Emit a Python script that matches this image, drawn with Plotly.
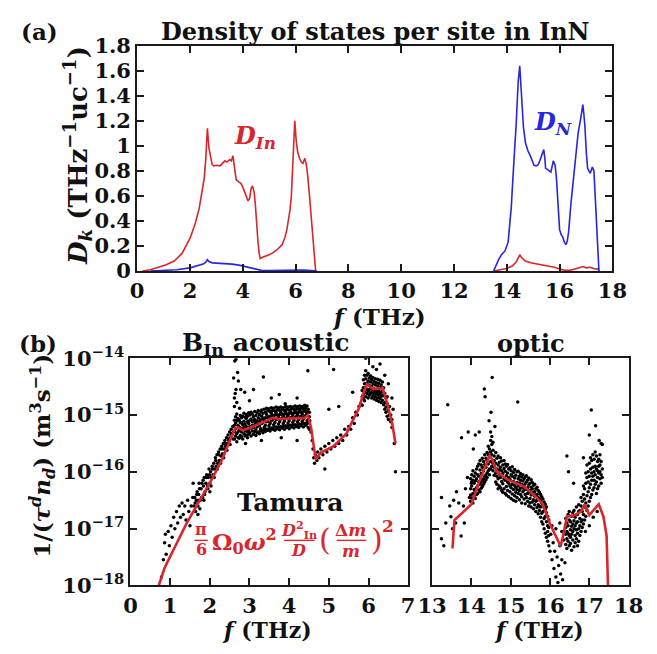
import plotly.graph_objects as go

# ---------------- data ----------------
# (a) density of states per site, D_In (red) and D_N (blue); None = gap between bands
dos_in_f = [0.2, 0.5, 0.8, 1.1, 1.4, 1.7, 2.0, 2.2, 2.35, 2.45, 2.54, 2.6, 2.66, 2.72, 2.78, 2.84, 2.9, 3.0,
            3.14, 3.22, 3.32, 3.4, 3.51, 3.57, 3.63, 3.69, 3.75, 3.85, 3.93, 4.0, 4.05, 4.12, 4.2, 4.26,
            4.32, 4.37, 4.43, 4.47, 4.52, 4.57, 4.62, 4.66, 4.75, 4.89, 5.0, 5.13, 5.3, 5.49, 5.6, 5.67,
            5.74, 5.79, 5.84, 5.88, 5.92, 5.97, 6.02, 6.08, 6.15, 6.22, 6.28, 6.35, 6.4, 6.45, 6.52, 6.61,
            6.7, 6.76, None,
            13.5, 13.8, 14.0, 14.2, 14.35, 14.45, 14.49, 14.55, 14.7, 14.9, 15.2, 15.5, 15.8, 16.0, 16.2,
            16.4, 16.6, 16.8, 16.9, 17.0, 17.15, 17.3, 17.45, 17.5]
dos_in = [0.0, 0.01, 0.03, 0.05, 0.08, 0.14, 0.26, 0.38, 0.5, 0.62, 0.74, 0.9, 1.14, 0.98, 0.9, 0.85, 0.84, 0.845,
          0.84, 0.86, 0.88, 0.87, 0.89, 0.88, 0.92, 0.82, 0.73, 0.71, 0.7, 0.67, 0.64, 0.6, 0.56, 0.58,
          0.66, 0.68, 0.63, 0.55, 0.38, 0.25, 0.14, 0.1, 0.11, 0.12, 0.13, 0.145, 0.17, 0.21, 0.27, 0.33,
          0.42, 0.49, 0.6, 0.77, 1.0, 1.2, 1.05, 0.95, 0.9, 0.87, 0.86, 0.9, 0.86, 0.78, 0.62, 0.41,
          0.15, 0.0, None,
          0.0, 0.01, 0.02, 0.04, 0.07, 0.11, 0.13, 0.11, 0.08, 0.065, 0.055, 0.045, 0.03, 0.015, 0.005,
          0.005, 0.015, 0.03, 0.035, 0.025, 0.03, 0.02, 0.015, 0.0]

dos_n_f = [0.5, 1.0, 1.5, 2.0, 2.3, 2.5, 2.6, 2.66, 2.72, 2.85, 3.0, 3.3, 3.6, 3.9, 4.1, 4.3, 4.5, 4.7, 5.0,
           5.5, 5.9, 6.0, 6.3, 6.6, 6.8, None,
           13.5, 13.6, 13.69, 13.8, 13.93, 14.05, 14.12, 14.17, 14.22, 14.26, 14.31, 14.35, 14.43, 14.49,
           14.55, 14.63, 14.71, 14.8, 14.89, 15.03, 15.12, 15.19, 15.25, 15.31, 15.4, 15.44, 15.47, 15.55,
           15.62, 15.67, 15.72, 15.76, 15.8, 15.83, 15.88, 15.91, 15.95, 16.0, 16.06, 16.12, 16.18, 16.24,
           16.29, 16.34, 16.43, 16.5, 16.55, 16.62, 16.7, 16.8, 16.88, 16.92, 16.96, 17.01, 17.06, 17.16,
           17.24, 17.3, 17.35, 17.39, 17.45, 17.49]
dos_n = [0.0, 0.003, 0.01, 0.025, 0.04, 0.055, 0.07, 0.09, 0.075, 0.065, 0.063, 0.06, 0.055, 0.045, 0.035,
         0.03, 0.015, 0.005, 0.003, 0.005, 0.008, 0.012, 0.008, 0.003, 0.0, None,
         0.0, 0.05, 0.09, 0.13, 0.16, 0.23, 0.38, 0.51, 0.7, 0.9, 1.02, 1.15, 1.51, 1.64,
         1.46, 1.15, 1.02, 0.96, 0.92, 0.845, 0.84, 0.85, 0.88, 0.91, 0.97, 0.9, 0.82, 0.81,
         0.8, 0.79, 0.84, 0.88, 0.86, 0.845, 0.74, 0.64, 0.48, 0.33, 0.29, 0.27, 0.23, 0.21,
         0.24, 0.31, 0.54, 0.7, 0.8, 0.95, 1.1, 1.22, 1.33, 1.25, 1.15, 0.95, 0.82, 0.78,
         0.83, 0.8, 0.6, 0.39, 0.15, 0.0]

dos_x_ticks = [0, 2, 4, 6, 8, 10, 12, 14, 16, 18]
dos_y_ticks = [0, 0.2, 0.4, 0.6, 0.8, 1.0, 1.2, 1.4, 1.6, 1.8]
dos_y_labels = ["0", "0.2", "0.4", "0.6", "0.8", "1", "1.2", "1.4", "1.6", "1.8"]

# (b) Tamura scattering rate, stored as log10 of 1/(tau^d n_d) in m^3 s^-1
tamura_acoustic_f = [0.715, 0.86, 1.10, 1.42, 1.74, 2.06, 2.31, 2.51, 2.63, 2.71, 2.83, 3.03, 3.35, 3.59,
                     3.75, 4.07, 4.39, 4.47, 4.55, 4.67, 4.80, 5.12, 5.44, 5.60, 5.76, 5.88, 5.96, 6.12,
                     6.36, 6.48, 6.60, 6.68]
tamura_acoustic_log = [-18.0, -17.69, -17.35, -16.90, -16.51, -16.12, -15.78, -15.44, -15.24, -15.22,
                       -15.27, -15.22, -15.13, -15.05, -15.07, -15.06, -15.05, -15.0, -15.22, -15.78,
                       -15.66, -15.55, -15.33, -15.10, -14.88, -14.60, -14.46, -14.54, -14.53, -14.82,
                       -15.16, -15.50]
tamura_optic_f = [13.52, 13.57, 13.76, 14.00, 14.17, 14.33, 14.46, 14.53, 14.65, 14.93, 15.34, 15.58,
                  15.82, 15.99, 16.15, 16.27, 16.35, 16.43, 16.63, 16.79, 16.88, 17.00, 17.24, 17.36,
                  17.44, 17.49]
tamura_optic_log = [-17.35, -16.85, -16.73, -16.57, -16.23, -15.95, -15.72, -15.78, -16.0, -16.14,
                    -16.26, -16.40, -16.57, -16.90, -17.13, -17.31, -17.07, -16.79, -16.76, -16.70,
                    -16.57, -16.76, -16.57, -16.79, -17.13, -18.4]

# computed per-mode rates read from the dot clouds: (f, log10 values...)
acoustic_cloud = [
    (0.78, -17.85), (0.83, -17.55), (0.86, -17.25), (0.88, -17.1), (0.9, -17.45), (0.95, -17.05),
    (0.98, -17.3), (1.02, -16.95), (1.05, -17.15), (1.09, -16.8), (1.12, -17.0), (1.16, -16.7),
    (1.19, -16.9), (1.23, -16.6), (1.26, -16.8), (1.3, -16.55), (1.33, -16.75), (1.37, -16.6),
    (1.4, -16.85), (1.44, -16.5), (1.47, -16.7), (1.5, -16.95), (1.53, -16.6), (1.57, -16.45),
    (1.58, -16.2),
    (1.60, -16.6), (1.62, -16.45), (1.63, -16.55), (1.64, -16.7), (1.66, -16.5), (1.67, -16.4),
    (1.68, -16.35), (1.70, -16.6, -16.75), (1.71, -16.5), (1.72, -16.4), (1.73, -16.2), (1.74, -16.3),
    (1.75, -16.65), (1.76, -16.5), (1.78, -16.3), (1.79, -16.45), (1.80, -16.2), (1.82, -16.45),
    (1.83, -16.15), (1.84, -16.25), (1.85, -16.5), (1.86, -16.1), (1.87, -16.4), (1.88, -16.35),
    (1.90, -16.2), (1.91, -16.1), (1.92, -16.05), (1.94, -16.25), (1.95, -16.3), (1.96, -16.1),
    (1.98, -15.95), (1.99, -16.05), (2.00, -16.2, -16.35), (2.02, -16.0), (2.03, -16.25),
    (2.04, -16.1), (2.06, -15.9), (2.07, -15.95), (2.08, -16.05), (2.10, -15.85), (2.11, -16.1),
    (2.12, -15.95), (2.14, -15.75), (2.15, -15.8), (2.16, -15.9), (2.18, -15.7), (2.19, -15.95),
    (2.20, -15.85), (2.22, -15.65), (2.23, -15.7), (2.24, -15.8), (2.26, -15.6), (2.27, -15.85),
    (2.28, -15.72), (2.30, -15.55), (2.31, -15.6), (2.32, -15.68), (2.34, -15.5), (2.35, -15.75),
    (2.36, -15.6), (2.38, -15.45), (2.39, -15.5), (2.40, -15.55), (2.42, -15.4), (2.43, -15.62),
    (2.44, -15.5), (2.46, -15.35), (2.47, -15.42), (2.48, -15.45), (2.50, -15.3), (2.51, -15.52),
    (2.52, -15.4), (2.54, -15.25), (2.55, -15.33), (2.56, -15.35), (2.58, -15.2), (2.59, -15.42),
    (2.60, -15.3),
    (2.62, -15.42, -15.29, -15.18, -15.09), (2.65, -15.37, -15.24, -15.14, -15.03),
    (2.68, -15.33, -15.47, -15.10, -14.98), (2.71, -15.30, -15.18, -15.40, -15.06),
    (2.74, -15.21, -15.41, -15.09, -15.27), (2.77, -15.36, -15.13, -15.23, -15.01),
    (2.80, -15.14, -15.30, -15.05, -15.38), (2.83, -15.25, -15.42, -15.17, -15.02),
    (2.86, -15.11, -15.33, -15.21, -14.97), (2.89, -15.37, -15.16, -15.28, -15.04),
    (2.92, -15.20, -15.06, -15.35, -14.99), (2.95, -15.29, -15.40, -15.12, -15.02),
    (2.98, -15.15, -15.26, -15.34, -14.96), (3.01, -15.31, -15.09, -15.20, -15.00),
    (3.04, -15.23, -15.37, -15.07, -14.95), (3.07, -15.12, -15.28, -15.18, -14.98),
    (3.10, -15.34, -15.03, -15.22, -15.10), (3.13, -15.17, -15.29, -15.08, -14.94),
    (3.16, -15.26, -15.13, -15.36, -15.01), (3.19, -15.10, -15.21, -15.31, -14.96),
    (3.22, -15.30, -15.05, -15.16, -14.92), (3.25, -15.19, -15.33, -15.11, -14.99),
    (3.28, -15.08, -15.24, -15.28, -14.94), (3.31, -15.27, -15.15, -15.02, -14.91),
    (3.34, -15.13, -15.31, -15.06, -14.97), (3.37, -15.22, -15.09, -15.26, -14.90),
    (3.40, -15.05, -15.18, -15.29, -14.95), (3.43, -15.25, -15.12, -14.99, -14.88),
    (3.46, -15.11, -15.27, -15.03, -14.93), (3.49, -15.19, -15.06, -15.24, -14.89),
    (3.52, -15.02, -15.15, -15.28, -14.94), (3.55, -15.23, -15.10, -14.97, -14.87),
    (3.58, -15.08, -15.25, -15.01, -14.92), (3.61, -15.17, -15.04, -15.22, -14.88),
    (3.64, -15.00, -15.13, -15.27, -14.93), (3.67, -15.21, -15.08, -14.96, -14.86),
    (3.70, -15.07, -15.24, -15.00, -14.91), (3.73, -15.16, -15.03, -15.21, -14.87),
    (3.76, -14.99, -15.12, -15.26, -14.92), (3.79, -15.20, -15.07, -14.95, -14.86),
    (3.82, -15.06, -15.23, -14.99, -14.90), (3.85, -15.15, -15.02, -15.20, -14.87),
    (3.88, -14.98, -15.11, -15.25, -14.92), (3.91, -15.19, -15.06, -14.94, -14.85),
    (3.94, -15.05, -15.22, -14.98, -14.90), (3.97, -15.14, -15.01, -15.19, -14.86),
    (4.00, -14.97, -15.10, -15.24, -14.91), (4.03, -15.18, -15.05, -14.93, -14.85),
    (4.06, -15.04, -15.21, -14.97, -14.89), (4.09, -15.13, -15.00, -15.18, -14.86),
    (4.12, -14.96, -15.09, -15.23, -14.90), (4.15, -15.17, -15.04, -14.92, -14.84),
    (4.18, -15.03, -15.20, -14.96, -14.89), (4.21, -15.12, -14.99, -15.17, -14.85),
    (4.24, -14.95, -15.08, -15.22, -14.90), (4.27, -15.16, -15.03, -14.91, -14.84),
    (4.30, -15.02, -15.19, -14.95, -14.88), (4.33, -15.11, -14.98, -15.16, -14.85),
    (4.36, -14.94, -15.07, -15.21, -14.89), (4.39, -15.15, -15.02, -14.90, -14.83),
    (4.42, -15.01, -15.18, -14.94, -14.87), (4.45, -15.10, -14.97, -15.15, -14.84),
    (4.48, -14.96, -15.08, -15.22, -14.90), (4.51, -15.14, -15.03, -15.25, -14.95),
    (2.60, -14.35), (2.62, -14.70, -14.85), (2.63, -14.05), (2.64, -14.62), (2.66, -14.02, -14.55),
    (2.68, -14.78), (2.70, -14.25), (2.72, -14.4), (2.75, -14.88), (2.78, -14.55), (2.88, -14.6),
    (3.00, -14.75), (3.10, -14.55), (3.35, -14.33), (3.55, -14.7), (3.75, -14.64), (3.90, -14.8),
    (4.20, -14.7), (4.47, -14.22), (2.90, -15.5), (3.30, -15.45), (3.80, -15.4), (4.20, -15.45),
    (5.12, -14.2),
    (4.52, -15.1), (4.55, -15.3), (4.58, -15.45), (4.60, -15.6), (4.62, -15.75), (4.64, -15.85),
    (4.66, -15.7), (4.70, -15.8), (4.72, -15.65), (4.75, -15.75), (4.80, -15.6), (4.85, -15.7),
    (4.90, -15.55, -15.95), (4.95, -15.65), (5.00, -15.5, -14.9), (5.05, -15.6), (5.10, -15.45),
    (5.15, -15.55), (5.20, -15.4), (5.25, -15.5, -14.85), (5.30, -15.35), (5.35, -15.45),
    (5.40, -15.25), (5.45, -15.35), (5.50, -15.2), (5.55, -15.25), (5.60, -15.05, -14.6),
    (5.64, -15.15), (5.68, -14.95), (5.72, -15.0), (5.76, -14.85), (5.80, -14.8),
    (5.84, -14.83, -14.68, -14.57), (5.87, -14.72, -14.52, -14.64, -14.38),
    (5.90, -14.60, -14.45, -14.75, -14.30), (5.93, -14.52, -14.68, -14.36, -14.22, -14.0),
    (5.96, -14.44, -14.62, -14.30, -14.55), (5.99, -14.58, -14.40, -14.70, -14.27, -13.95),
    (6.02, -14.48, -14.65, -14.35, -14.55), (6.05, -14.62, -14.42, -14.53, -14.31),
    (6.08, -14.50, -14.70, -14.38, -14.60), (6.11, -14.66, -14.45, -14.56, -14.34, -14.15),
    (6.14, -14.54, -14.72, -14.41, -14.62), (6.17, -14.68, -14.47, -14.58, -14.36),
    (6.20, -14.56, -14.74, -14.43, -14.63, -14.2), (6.23, -14.70, -14.49, -14.60, -14.37),
    (6.26, -14.58, -14.76, -14.44, -14.65), (6.29, -14.71, -14.51, -14.62, -14.39, -14.1),
    (6.32, -14.60, -14.78, -14.47, -14.67), (6.35, -14.74, -14.55, -14.65, -14.42),
    (6.38, -14.66, -14.82, -14.52), (6.41, -14.78, -14.62, -14.90, -14.3),
    (6.44, -14.86, -14.70, -14.95), (6.47, -14.80, -15.02, -14.68), (6.50, -14.92, -15.08, -14.45),
    (6.53, -15.00, -14.85), (6.56, -15.12, -15.00), (6.59, -15.22, -15.08, -14.7),
    (6.62, -14.9), (6.65, -15.5), (6.68, -16.0),
]

optic_cloud = [
    (13.24, -16.45, -17.18), (13.30, -17.3), (13.35, -16.9), (13.40, -14.82), (13.45, -16.6),
    (13.48, -16.79), (13.52, -17.0), (13.55, -16.5), (13.60, -16.9), (13.62, -16.35), (13.68, -16.55),
    (13.74, -17.13), (13.75, -15.4), (13.80, -16.6), (13.82, -16.9), (13.85, -16.3), (13.90, -16.1),
    (13.92, -15.3), (13.95, -16.45), (14.00, -16.2), (14.05, -15.6), (14.10, -15.35),
    (13.98, -16.52, -16.30, -16.12, -16.41), (14.01, -16.25, -16.46, -16.05, -16.18),
    (14.04, -16.38, -16.15, -16.55, -15.98), (14.07, -16.20, -16.42, -16.08, -16.31),
    (14.10, -16.34, -16.02, -16.47, -16.16), (14.13, -16.12, -16.28, -15.95, -16.40),
    (14.16, -16.25, -16.05, -16.38, -15.90), (14.19, -16.08, -16.32, -16.17, -15.86),
    (14.22, -16.22, -15.97, -16.35, -15.80), (14.25, -16.03, -16.18, -15.88, -16.29),
    (14.28, -16.15, -15.92, -16.26, -15.76), (14.31, -15.98, -16.12, -15.82, -16.22),
    (14.34, -16.08, -15.87, -16.18, -15.70), (14.37, -15.92, -16.05, -15.76, -16.14),
    (14.40, -16.02, -15.80, -15.66, -16.10), (14.43, -15.86, -15.98, -15.70, -15.55),
    (14.46, -15.95, -15.74, -15.60, -16.05), (14.49, -15.82, -15.65, -15.45, -15.30, -15.95),
    (14.52, -15.90, -15.70, -15.52, -15.38), (14.55, -15.85, -15.98, -15.62, -15.48),
    (14.58, -15.92, -16.06, -15.72, -15.80),
    (14.33, -14.54), (14.35, -14.68), (14.53, -14.34), (14.50, -14.95), (14.45, -15.1), (14.20, -15.3),
    (14.60, -15.2), (15.18, -14.77),
    (14.62, -16.18, -16.02, -15.85, -15.66), (14.65, -15.95, -16.22, -15.76, -16.08),
    (14.68, -16.12, -15.88, -16.30, -15.72), (14.71, -16.04, -16.25, -15.83, -15.97),
    (14.74, -16.28, -15.92, -16.10, -15.75), (14.77, -15.98, -16.17, -15.81, -16.33),
    (14.80, -16.21, -16.03, -15.88, -16.36), (14.83, -15.94, -16.30, -16.12, -15.80),
    (14.86, -16.15, -15.99, -16.38, -15.86), (14.89, -16.26, -16.07, -15.90, -16.41),
    (14.92, -16.02, -16.33, -16.18, -15.87), (14.95, -16.20, -15.95, -16.44, -16.10),
    (14.98, -16.35, -16.13, -15.93, -16.25), (15.01, -16.05, -16.28, -15.98, -16.47),
    (15.04, -16.22, -16.39, -16.08, -15.91), (15.07, -16.31, -16.01, -16.17, -16.50),
    (15.10, -16.11, -16.42, -16.24, -15.96), (15.13, -16.27, -16.06, -16.36, -16.52),
    (15.16, -16.19, -16.45, -16.00, -16.31), (15.19, -16.38, -16.12, -16.25, -15.99),
    (15.22, -16.08, -16.33, -16.49, -16.20), (15.25, -16.29, -16.15, -16.40, -16.03),
    (15.28, -16.44, -16.22, -16.09, -16.55), (15.31, -16.16, -16.35, -16.27, -16.05),
    (15.34, -16.32, -16.48, -16.12, -16.24), (15.37, -16.21, -16.40, -16.56, -16.09),
    (15.40, -16.45, -16.18, -16.31, -16.07), (15.43, -16.28, -16.52, -16.15, -16.38),
    (15.46, -16.36, -16.23, -16.60, -16.11), (15.49, -16.20, -16.47, -16.33, -16.55),
    (15.52, -16.41, -16.27, -16.14, -16.62), (15.55, -16.30, -16.53, -16.38, -16.19),
    (15.58, -16.49, -16.24, -16.65, -16.36), (15.61, -16.35, -16.58, -16.43, -16.22),
    (15.64, -16.52, -16.30, -16.70, -16.41), (15.67, -16.40, -16.63, -16.27, -16.50),
    (15.70, -16.58, -16.45, -16.74, -16.33), (15.73, -16.47, -16.68, -16.36, -16.60),
    (15.76, -16.62, -16.51, -16.80, -16.40), (15.79, -16.55, -16.73, -16.44, -16.88),
    (15.82, -16.70, -16.58, -16.92, -16.48), (15.85, -16.63, -16.82, -16.53, -17.00),
    (15.88, -16.78, -16.66, -17.08, -16.57), (15.91, -16.88, -16.72, -17.15, -16.62),
    (15.94, -16.95, -17.22, -16.78, -17.05), (15.97, -17.30, -16.85, -17.12, -16.98),
    (16.00, -17.4), (16.02, -17.1), (16.05, -17.55, -16.95), (16.08, -17.25), (16.10, -17.7),
    (16.12, -17.4), (16.15, -17.85, -17.0), (16.18, -17.5), (16.20, -17.95), (16.22, -17.65),
    (16.25, -17.3, -16.9), (16.27, -17.8), (16.30, -17.55, -17.05), (16.32, -17.9), (16.35, -17.2),
    (16.38, -17.6),
    (16.40, -17.28, -16.98, -17.10, -16.82), (16.43, -17.05, -17.35, -16.90, -17.18),
    (16.46, -16.95, -17.22, -16.75, -17.08), (16.49, -17.30, -16.85, -17.12, -16.70),
    (16.52, -17.02, -17.26, -16.88, -17.15), (16.55, -16.78, -17.10, -16.96, -17.38),
    (16.58, -17.20, -16.92, -16.72, -17.05), (16.61, -16.86, -17.32, -17.00, -16.68),
    (16.64, -17.12, -16.80, -17.25, -16.95), (16.67, -16.90, -17.18, -16.62, -17.02),
    (16.70, -17.08, -16.75, -16.88, -17.30), (16.73, -16.70, -17.00, -17.22, -16.58),
    (16.76, -16.95, -16.68, -17.12, -16.82), (16.79, -16.60, -16.88, -17.05, -16.45),
    (16.82, -16.85, -16.52, -16.98, -16.70), (16.85, -16.40, -16.75, -16.92, -16.25),
    (16.88, -16.62, -16.30, -16.85, -16.48), (16.91, -16.20, -16.55, -16.78, -16.02),
    (16.94, -16.42, -16.10, -16.68, -15.88), (16.97, -16.00, -16.35, -16.60, -16.18),
    (17.00, -16.28, -15.85, -16.52, -16.08), (17.03, -15.95, -16.22, -16.45, -15.75),
    (17.06, -16.15, -15.80, -16.40, -16.02), (17.09, -15.70, -16.08, -16.32, -15.92),
    (17.12, -16.00, -15.78, -16.28, -16.15), (17.15, -15.65, -15.90, -16.22, -16.05),
    (17.18, -15.95, -15.72, -16.18, -16.38), (17.21, -15.82, -16.10, -15.98, -16.30),
    (17.24, -16.02, -15.78, -16.25, -15.90), (17.27, -15.88, -16.12, -16.00, -15.70),
    (17.30, -16.05, -15.82, -16.20), (17.33, -15.95, -16.10),
    (16.90, -17.05), (17.00, -16.95), (17.10, -16.8), (17.20, -16.7),
    (16.43, -15.72), (16.47, -16.0), (16.60, -16.2), (16.85, -15.75), (17.00, -15.35),
    (17.05, -14.91), (17.16, -15.19), (17.25, -15.45), (17.30, -15.5), (17.33, -15.52),
]

rate_tickvals = [1e-18, 1e-17, 1e-16, 1e-15, 1e-14]
rate_ticktext = ["10<sup>\u221218</sup>", "10<sup>\u221217</sup>", "10<sup>\u221216</sup>",
                 "10<sup>\u221215</sup>", "10<sup>\u221214</sup>"]
acoustic_x_ticks = [0, 1, 2, 3, 4, 5, 6, 7]
optic_x_ticks = [13, 14, 15, 16, 17, 18]

# ---------------- figure ----------------
W, H = 657, 654
FONT = "DejaVu Serif"
RED = "#d8262b"
BLUE = "#2626dc"
TICK_SIZE = 21


def px(x):
    return x / W


def py(y):
    return 1 - y / H


def flatten(rows):
    xs, ys = [], []
    for row in rows:
        for v in row[1:]:
            xs.append(row[0])
            ys.append(10 ** v)
    return xs, ys


fig = go.Figure()

fig.add_trace(go.Scatter(x=dos_in_f, y=dos_in, mode="lines", line=dict(color=RED, width=1.6),
                         xaxis="x", yaxis="y", connectgaps=False, showlegend=False))
fig.add_trace(go.Scatter(x=dos_n_f, y=dos_n, mode="lines", line=dict(color=BLUE, width=1.6),
                         xaxis="x", yaxis="y", connectgaps=False, showlegend=False))

ax, ay = flatten(acoustic_cloud)
fig.add_trace(go.Scatter(x=ax, y=ay, mode="markers", marker=dict(color="black", size=3.5),
                         xaxis="x2", yaxis="y2", showlegend=False))
fig.add_trace(go.Scatter(x=tamura_acoustic_f, y=[10 ** v for v in tamura_acoustic_log], mode="lines",
                         line=dict(color=RED, width=2.6), xaxis="x2", yaxis="y2", showlegend=False))

ox, oy = flatten(optic_cloud)
fig.add_trace(go.Scatter(x=ox, y=oy, mode="markers", marker=dict(color="black", size=3.5),
                         xaxis="x3", yaxis="y3", showlegend=False))
fig.add_trace(go.Scatter(x=tamura_optic_f, y=[10 ** v for v in tamura_optic_log], mode="lines",
                         line=dict(color=RED, width=2.6), xaxis="x3", yaxis="y3", showlegend=False))

tickfont = dict(family=FONT, size=TICK_SIZE, color="#111", weight="bold")
common = dict(showline=True, linecolor="#1a1a1a", linewidth=2, mirror="allticks", ticks="inside",
              ticklen=7, tickwidth=1.5, tickcolor="#1a1a1a", showgrid=False, zeroline=False,
              tickfont=tickfont)

fig.update_layout(
    width=W, height=H, margin=dict(l=0, r=0, t=0, b=0),
    paper_bgcolor="white", plot_bgcolor="white",
    xaxis=dict(domain=[px(128), px(626)], anchor="y", range=[0, 18], tickvals=dos_x_ticks, **common),
    yaxis=dict(domain=[py(267), py(32)], anchor="x", range=[0, 1.8], tickvals=dos_y_ticks,
               ticktext=dos_y_labels, **common),
    xaxis2=dict(domain=[px(121), px(412)], anchor="y2", range=[0, 7], tickvals=acoustic_x_ticks, **common),
    yaxis2=dict(domain=[py(595), py(358)], anchor="x2", type="log", range=[-18, -14],
                tickvals=rate_tickvals, ticktext=rate_ticktext, **common),
    xaxis3=dict(domain=[px(437), px(643)], anchor="y3", range=[13, 18], tickvals=optic_x_ticks, **common),
    yaxis3=dict(domain=[py(595), py(358)], anchor="x3", type="log", range=[-18, -14],
                tickvals=rate_tickvals, showticklabels=False, **common),
)


def note(text, x, y, size=21, color="#111", angle=0, xref="paper", yref="paper", weight="bold"):
    if xref == "paper":
        x = px(x)
    if yref == "paper":
        y = py(y)
    fig.add_annotation(text=text, x=x, y=y, xref=xref, yref=yref, showarrow=False, textangle=angle,
                       font=dict(family=FONT, size=size, color=color, weight=weight),
                       xanchor="center", yanchor="middle")


# panel labels and titles
note("(a)", 26, 17, size=23)
note("Density of states per site in InN", 378, 17, size=24)
note("(b)", 24, 343, size=23)
note("B<sub>In</sub> acoustic", 262, 343, size=25)
note("optic", 541, 343, size=24)

# axis titles
note("<i>f</i> (THz)", 381, 314, size=23)
note("<i>f</i> (THz)", 264, 642, size=22)
note("<i>f</i> (THz)", 549, 642, size=22)
note("<i>D<sub>k</sub></i> (THz<sup>\u22121</sup>uc<sup>\u22121</sup>)", 66, 146, size=26, angle=-90)
note("1/(<i>\u03c4<sup>d</sup>n<sub>d</sub></i>) (m<sup>3</sup>s<sup>\u22121</sup>)", 28, 460, size=23,
     angle=-90)

# curve labels
note("<i>D<sub>In</sub></i>", 4.45, 1.07, size=24, color=RED, xref="x", yref="y")
note("<i>D<sub>N</sub></i>", 15.75, 1.18, size=24, color=BLUE, xref="x", yref="y")

# Tamura formula
note("Tamura", 288, 508, size=25)
note("\u03c0", 195, 537, size=16, color=RED)
note("6", 195, 558, size=16, color=RED)
note("\u03a9<sub>0</sub><i>\u03c9</i><sup>2</sup>", 241, 549, size=23, color=RED)
note("<i>D</i><sup>2</sup><sub>In</sub>", 298, 537, size=16, color=RED)
note("<i>D</i>", 297, 559, size=16, color=RED)
note("(", 325, 547, size=30, color=RED, weight="normal")
note("\u0394<i>m</i>", 352, 537, size=17, color=RED)
note("<i>m</i>", 352, 559, size=17, color=RED)
note(")", 379, 547, size=30, color=RED, weight="normal")
note("2", 391, 533, size=17, color=RED)

for x0, x1 in [(188, 202), (282, 314), (337, 368)]:
    fig.add_shape(type="line", xref="paper", yref="paper", x0=px(x0), x1=px(x1), y0=py(548), y1=py(548),
                  line=dict(color=RED, width=1.4))

fig.write_html("out.html", config={"displayModeBar": False},
               post_script="document.body.style.margin='0px';")
